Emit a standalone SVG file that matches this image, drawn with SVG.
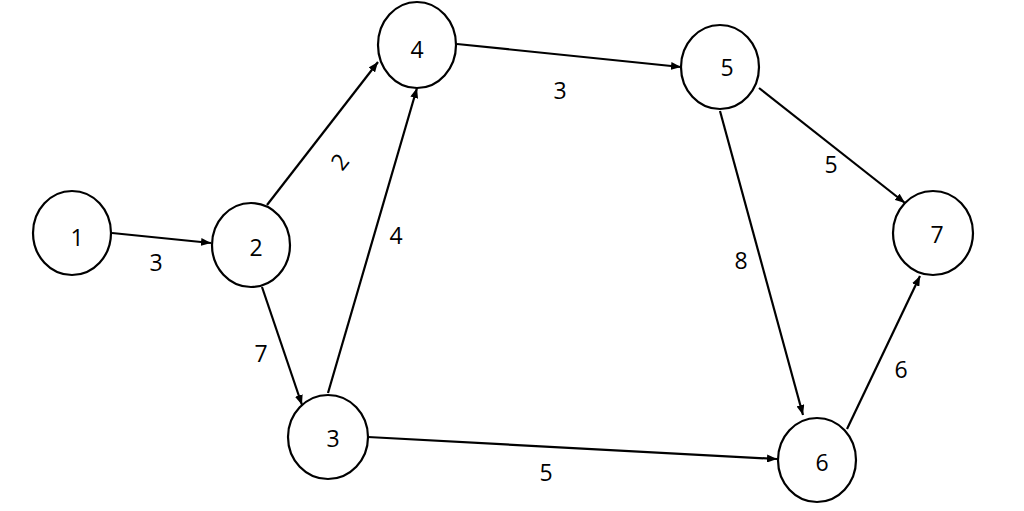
<svg xmlns="http://www.w3.org/2000/svg" width="1024" height="511" viewBox="0 0 1024 511">
<style>
.node ellipse{fill:#fff;stroke:#000;stroke-width:2.2}
text{font-family:"Open Sans","Liberation Sans",sans-serif;font-size:23px;fill:#000;text-anchor:middle}
.edge{stroke:#000;stroke-width:2.2;fill:none;marker-end:url(#ah)}
</style>
<defs>
<marker id="ah" markerWidth="11" markerHeight="8" refX="10" refY="4" orient="auto" markerUnits="userSpaceOnUse">
<path d="M0,0 L10,4 L0,8 Z" fill="#000"/>
</marker>
</defs>
<rect width="1024" height="511" fill="#fff"/>
<g id="connectors">
<line class="edge" x1="112" y1="233" x2="211" y2="243"/>
<line class="edge" x1="267" y1="205" x2="378" y2="62"/>
<line class="edge" x1="262" y1="287" x2="302" y2="405"/>
<line class="edge" x1="328" y1="393" x2="417" y2="88"/>
<line class="edge" x1="457" y1="44" x2="681" y2="67"/>
<line class="edge" x1="759" y1="88" x2="905" y2="203"/>
<line class="edge" x1="720" y1="111" x2="803" y2="415"/>
<line class="edge" x1="847" y1="429" x2="920" y2="276"/>
<line class="edge" x1="368" y1="437" x2="777" y2="459"/>
<text x="156" y="271">3</text>
<text x="340" y="170" transform="rotate(-52 340 162)">2</text>
<text x="396" y="244">4</text>
<text x="560" y="99">3</text>
<text x="831" y="173">5</text>
<text x="741" y="269">8</text>
<text x="901" y="378">6</text>
<text x="261" y="362">7</text>
<text x="546" y="481">5</text>
</g>
<g id="node1" class="node"><ellipse cx="72" cy="233" rx="39" ry="42"/><text x="77" y="246">1</text></g>
<g id="node2" class="node"><ellipse cx="251" cy="245" rx="39" ry="42"/><text x="256" y="256">2</text></g>
<g id="node3" class="node"><ellipse cx="328" cy="437" rx="40" ry="42"/><text x="333" y="447">3</text></g>
<g id="node4" class="node"><ellipse cx="417" cy="45" rx="39" ry="43"/><text x="417" y="58">4</text></g>
<g id="node5" class="node"><ellipse cx="720" cy="67" rx="39" ry="42"/><text x="727" y="76">5</text></g>
<g id="node6" class="node"><ellipse cx="817" cy="460" rx="39" ry="42"/><text x="822" y="471">6</text></g>
<g id="node7" class="node"><ellipse cx="933" cy="233" rx="40" ry="42"/><text x="937" y="243">7</text></g>
</svg>
